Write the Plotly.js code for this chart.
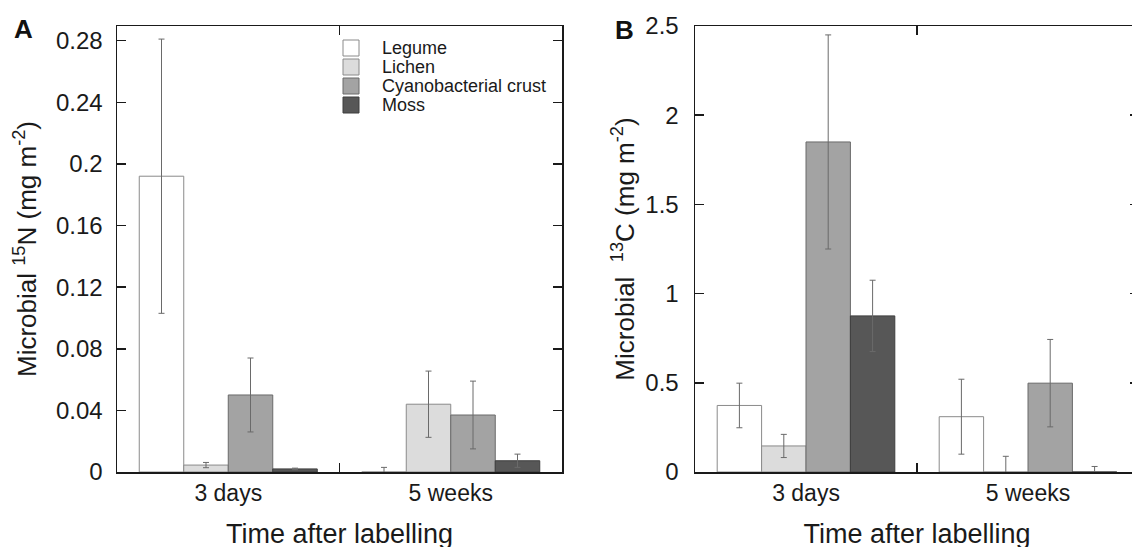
<!DOCTYPE html>
<html><head><meta charset="utf-8">
<script src="https://cdn.plot.ly/plotly-3.0.1.min.js"></script>
<style>html,body{margin:0;padding:0;overflow:hidden;background:#fff}#chart{width:1150px;height:556px}</style>
</head><body><div id="chart"></div>
<script>
// ---- data ----
const categories = ["3 days", "5 weeks"];
const seriesNames = ["Legume", "Lichen", "Cyanobacterial crust", "Moss"];

const n15Legume = [0.192, 0];
const n15Lichen = [0.0045, 0.044];
const n15Cyano = [0.050, 0.037];
const n15Moss = [0.002, 0.0073];
const n15LegumeErr = [0.089, 0.003];
const n15LichenErr = [0.0017, 0.0215];
const n15CyanoErr = [0.024, 0.022];
const n15MossErr = [0.0005, 0.0043];

const c13Legume = [0.373, 0.31];
const c13Lichen = [0.146, 0];
const c13Cyano = [1.85, 0.498];
const c13Moss = [0.875, 0];
const c13LegumeErr = [0.125, 0.21];
const c13LichenErr = [0.065, 0.088];
const c13CyanoErr = [0.60, 0.245];
const c13MossErr = [0.2, 0.031];

const n15TickVals = [0, 0.04, 0.08, 0.12, 0.16, 0.2, 0.24, 0.28];
const n15TickText = ["0", "0.04", "0.08", "0.12", "0.16", "0.2", "0.24", "0.28"];
const c13TickVals = [0, 0.5, 1, 1.5, 2, 2.5];
const c13TickText = ["0", "0.5", "1", "1.5", "2", "2.5"];

// ---- styles ----
const fills = ["#ffffff", "#dcdcdc", "#a3a3a3", "#575757"];
const outlines = ["#8a8a8a", "#8a8a8a", "#6a6a6a", "#3e3e3e"];
const FONT = "Liberation Sans, Arial, Helvetica, sans-serif";

const n15 = [n15Legume, n15Lichen, n15Cyano, n15Moss];
const n15e = [n15LegumeErr, n15LichenErr, n15CyanoErr, n15MossErr];
const c13 = [c13Legume, c13Lichen, c13Cyano, c13Moss];
const c13e = [c13LegumeErr, c13LichenErr, c13CyanoErr, c13MossErr];

const traces = [];
function addSet(vals, errs, xa, ya) {
  vals.forEach((v, i) => {
    traces.push({
      type: "bar", x: categories, y: v, name: seriesNames[i],
      xaxis: xa, yaxis: ya, showlegend: false, offsetgroup: String(i),
      marker: { color: fills[i], line: { color: outlines[i], width: 1 } },
      error_y: { type: "data", array: errs[i], visible: true, color: "#6a6a6a", thickness: 1, width: 3 },
      hoverinfo: "skip"
    });
  });
}
addSet(n15, n15e, "x", "y");
addSet(c13, c13e, "x2", "y2");

// pixel geometry helpers (plot area 117..1139 x, 26..472 y)
const W = 1150, H = 556;
const L = 117, R = 1139, T = 26, B = 472;
const px = x => (x - L) / (R - L);
const py = y => (B - y) / (B - T);

const axisCommon = {
  showline: true, linecolor: "#1a1a1a", linewidth: 1.5, mirror: "ticks",
  ticks: "inside", ticklen: 9, tickwidth: 1.5, tickcolor: "#1a1a1a",
  showgrid: false, zeroline: false, fixedrange: true,
  tickfont: { family: FONT, size: 24, color: "#1a1a1a" }
};

const xCommon = Object.assign({}, axisCommon, {
  type: "category", tickson: "boundaries",
  tickfont: { family: FONT, size: 23, color: "#1a1a1a" },
  title: { text: "Time after labelling", font: { family: FONT, size: 27, color: "#1a1a1a" }, standoff: 19 }
});

const shapes = [];
const annotations = [];
const legendRows = [48, 67, 86, 105];
seriesNames.forEach((nm, i) => {
  shapes.push({ type: "rect", xref: "paper", yref: "paper",
    x0: px(343), x1: px(359), y0: py(legendRows[i] + 8), y1: py(legendRows[i] - 8),
    fillcolor: fills[i], line: { color: outlines[i], width: 1 } });
  annotations.push({ xref: "paper", yref: "paper", x: px(380), y: py(legendRows[i]),
    xanchor: "left", yanchor: "middle", showarrow: false, text: nm,
    font: { family: FONT, size: 18, color: "#1a1a1a" } });
});
annotations.push({ xref: "paper", yref: "paper", x: px(23), y: py(29), xanchor: "center", yanchor: "middle",
  showarrow: false, text: "<b>A</b>", font: { family: FONT, size: 26, color: "#111" } });
annotations.push({ xref: "paper", yref: "paper", x: px(624), y: py(30), xanchor: "center", yanchor: "middle",
  showarrow: false, text: "<b>B</b>", font: { family: FONT, size: 26, color: "#111" } });

const layout = {
  width: W, height: H,
  margin: { l: L, r: W - R, t: T, b: H - B, pad: 0 },
  paper_bgcolor: "#fff", plot_bgcolor: "#fff",
  barmode: "group", bargap: 0.2, bargroupgap: 0,
  font: { family: FONT, color: "#1a1a1a" },
  showlegend: false,
  xaxis: Object.assign({}, xCommon, { domain: [0, px(562)], anchor: "y" }),
  xaxis2: Object.assign({}, xCommon, { domain: [px(695), 1], anchor: "y2" }),
  yaxis: Object.assign({}, axisCommon, {
    anchor: "x", range: [0, 0.2895], tickvals: n15TickVals, ticktext: n15TickText, ticklabelstandoff: 8,
    title: { text: "Microbial <sup>15</sup>N (mg m<sup>-2</sup>)", font: { family: FONT, size: 26, color: "#1a1a1a" }, standoff: 12 }
  }),
  yaxis2: Object.assign({}, axisCommon, {
    anchor: "x2", range: [0, 2.5], tickvals: c13TickVals, ticktext: c13TickText, ticklabelstandoff: 10,
    title: { text: "Microbial\u00a0\u00a0<sup>13</sup>C (mg m<sup>-2</sup>)", font: { family: FONT, size: 26, color: "#1a1a1a" }, standoff: 3 }
  }),
  shapes: shapes,
  annotations: annotations
};

Plotly.newPlot("chart", traces, layout, { displayModeBar: false, staticPlot: true });
</script>
</body></html>
